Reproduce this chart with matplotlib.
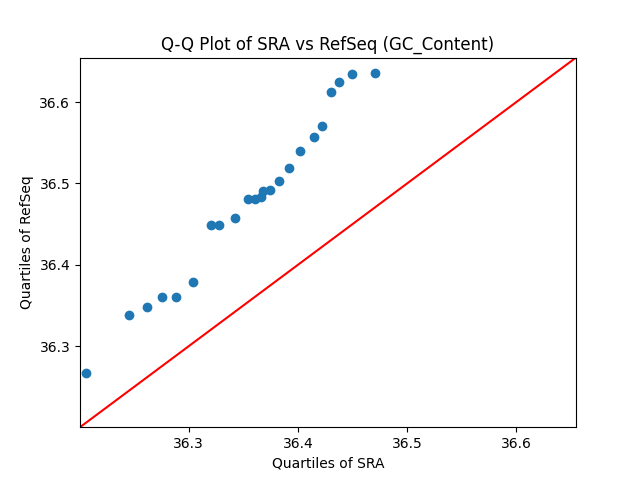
import matplotlib
matplotlib.use("Agg")
import matplotlib.pyplot as plt
import numpy as np

sra_quantiles = [36.2057, 36.2452, 36.2617, 36.2755, 36.2887, 36.3039, 36.3202, 36.3278,
                 36.3425, 36.3545, 36.3609, 36.3661, 36.3680, 36.3747, 36.3831, 36.3920,
                 36.4022, 36.4151, 36.4224, 36.4307, 36.4380, 36.4500, 36.4702]
refseq_quantiles = [36.2668, 36.3385, 36.3480, 36.3606, 36.3606, 36.3787, 36.4492, 36.4492,
                    36.4574, 36.4808, 36.4808, 36.4833, 36.4902, 36.4919, 36.5031, 36.5189,
                    36.5396, 36.5571, 36.5710, 36.6124, 36.6247, 36.6346, 36.6358]
limits = (36.2005, 36.6547)

fig, ax = plt.subplots(figsize=(6.4, 4.8), dpi=100)
ax.plot(sra_quantiles, refseq_quantiles, 'o', color='#1f77b4')
ax.plot(limits, limits, color='red', linewidth=1.5)
ax.set_xlim(*limits)
ax.set_ylim(*limits)
ax.set_xticks([36.3, 36.4, 36.5, 36.6])
ax.set_yticks([36.3, 36.4, 36.5, 36.6])
ax.set_xlabel('Quartiles of SRA')
ax.set_ylabel('Quartiles of RefSeq')
ax.set_title('Q-Q Plot of SRA vs RefSeq (GC_Content)')
fig.savefig('out.png', dpi=100)
